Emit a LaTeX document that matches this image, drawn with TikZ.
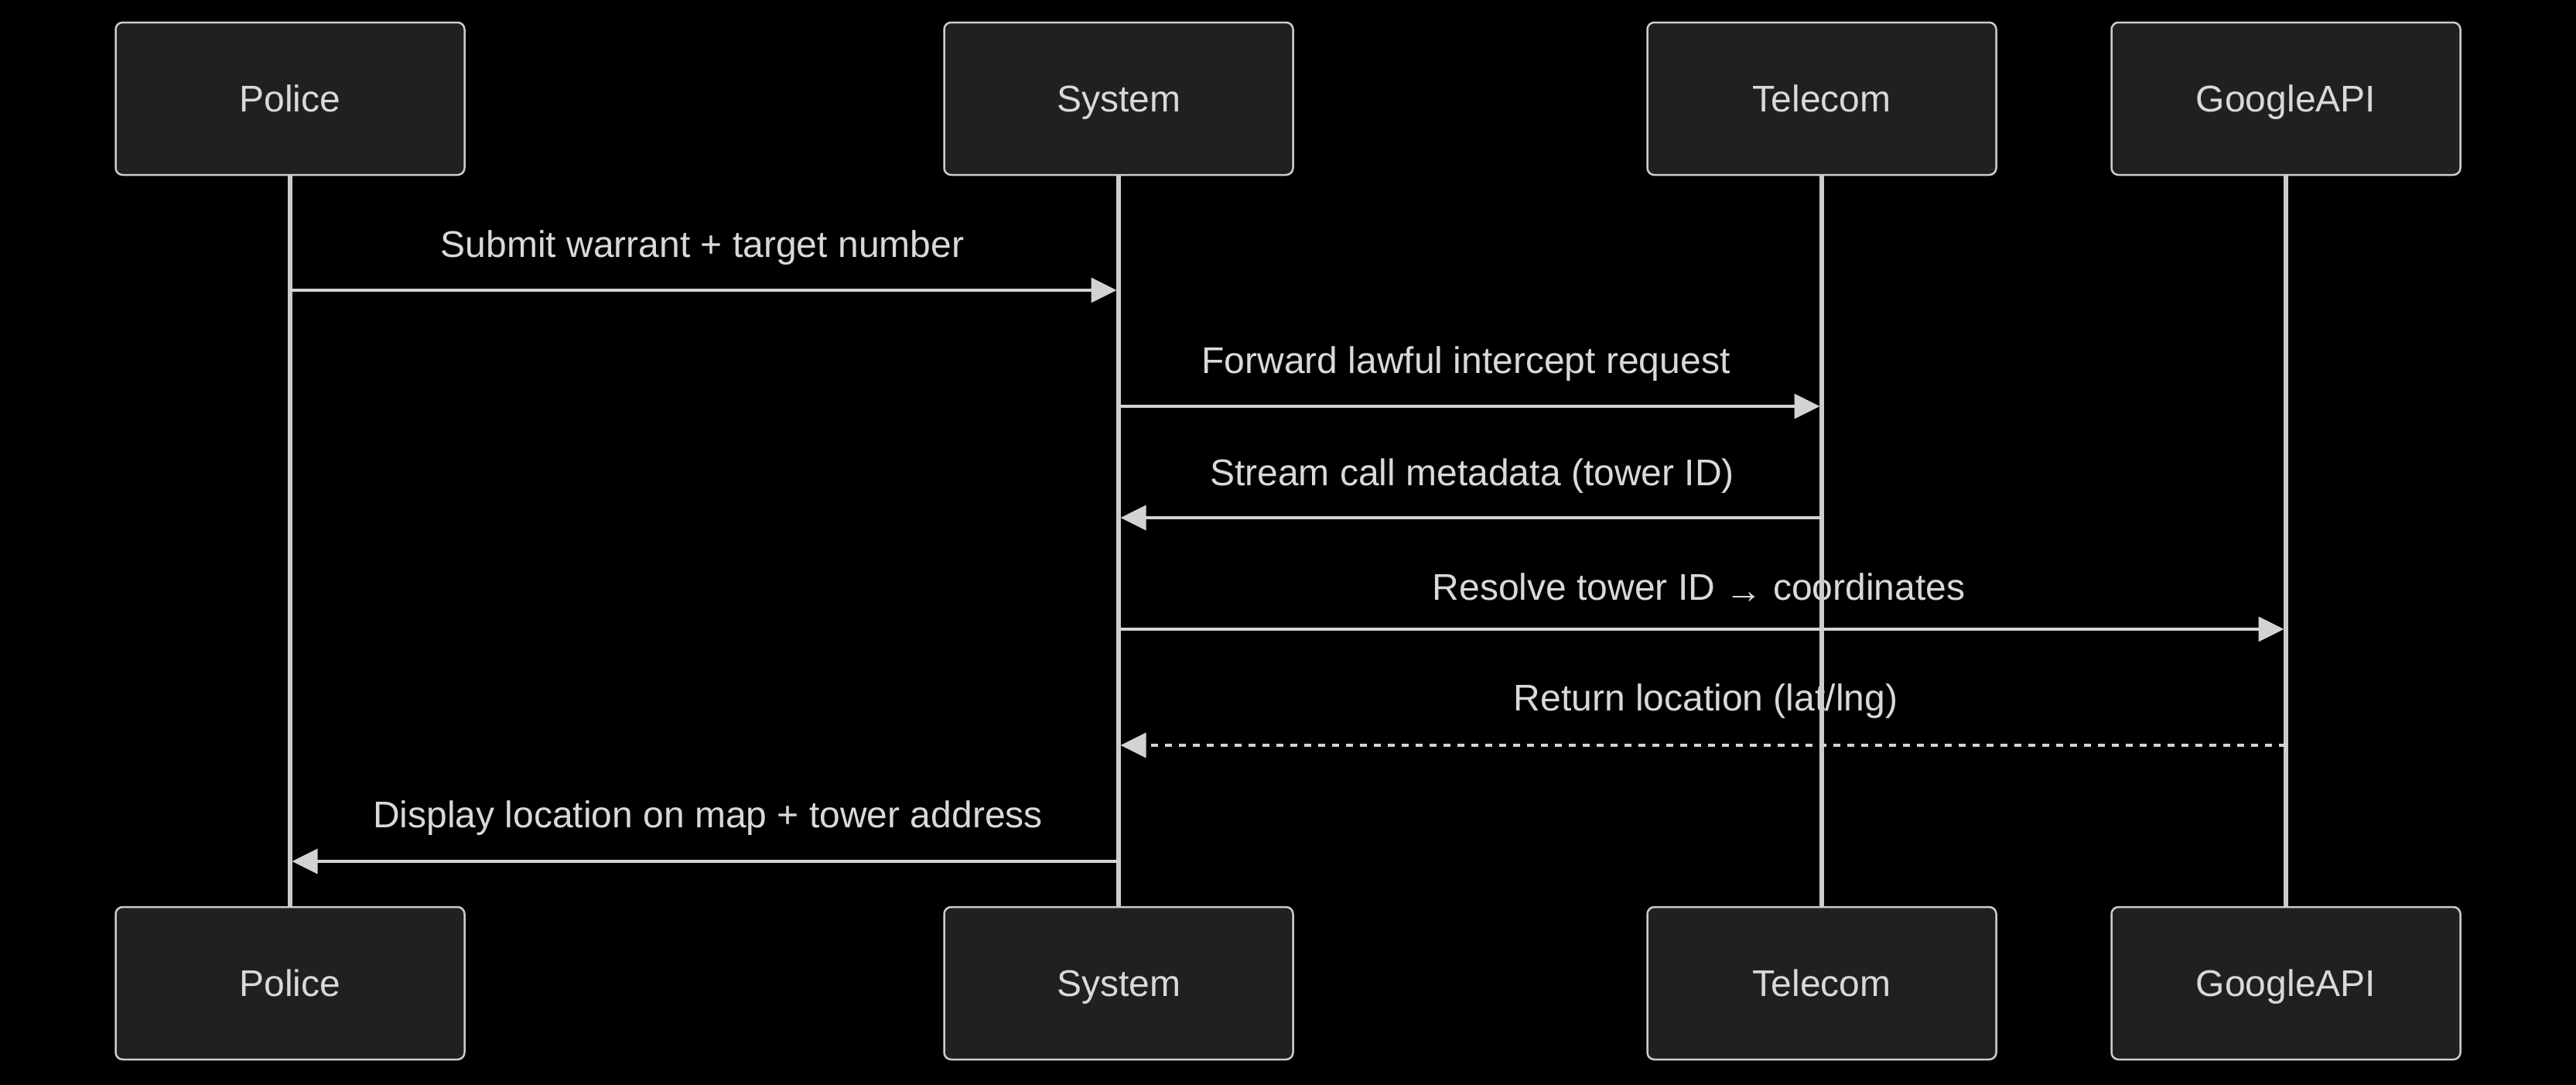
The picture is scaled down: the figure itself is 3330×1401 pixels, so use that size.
\documentclass[tikz,border=0pt]{standalone}
\usepackage{fontspec}
\setmainfont{Liberation Sans}
\usetikzlibrary{arrows.meta}
\definecolor{bg}{HTML}{000000}
\definecolor{boxfill}{HTML}{1F2121}
\definecolor{boxline}{HTML}{CCCCCC}
\definecolor{lifec}{HTML}{CCCCCC}
\definecolor{sigc}{HTML}{D3D3D3}
\definecolor{txtc}{HTML}{D9D9D9}
\tikzset{
  actor/.style={draw=boxline, fill=boxfill, line width=2.5pt, rounded corners=9pt,
    minimum width=451pt, minimum height=197pt, inner sep=0pt,
    text height=34.4pt, text depth=0pt,
    text=txtc, font=\fontsize{48}{58}\selectfont},
  lifeline/.style={draw=lifec, line width=5.5pt},
  msg/.style={draw=sigc, line width=3.5pt,
    -{Triangle[length=33pt,width=32pt]}, shorten >=2.5pt},
  reply/.style={msg, dash pattern=on 9pt off 9pt},
  lbl/.style={text=txtc, font=\fontsize{48}{58}\selectfont, inner sep=0pt, anchor=base},
}
\begin{document}
\begin{tikzpicture}[x=1pt,y=-1pt]
\useasboundingbox (0,0) rectangle (3330,1401);
\fill[bg] (-2,-2) rectangle (3332,1403);
% actors
\node[actor] (p1) at (375,127.5) {Police};
\node[actor] (s1) at (1446,127.5) {System};
\node[actor] (t1) at (2355,127.5) {Telecom};
\node[actor] (g1) at (2955,127.5) {GoogleAPI};
\node[actor] (p2) at (375,1270.5) {Police};
\node[actor] (s2) at (1446,1270.5) {System};
\node[actor] (t2) at (2355,1270.5) {Telecom};
\node[actor] (g2) at (2955,1270.5) {GoogleAPI};
% labels
\node[lbl] (l1) at (908,332) {Submit warrant + target number};
\node[lbl] (l2) at (1895,482) {Forward lawful intercept request};
\node[lbl] (l3) at (1903,627) {Stream call metadata (tower ID)};
\node[lbl] (l4) at (2196,775) {Resolve tower ID \raisebox{-4pt}{→} coordinates};
\node[lbl] (l5) at (2205,918) {Return location (lat/lng)};
\node[lbl] (l6) at (915,1069) {Display location on map + tower address};
% lifelines
\draw[lifeline] (p1.south) -- (p2.north);
\draw[lifeline] (s1.south) -- (s2.north);
\draw[lifeline] (t1.south) -- (t2.north);
\draw[lifeline] (g1.south) -- (g2.north);
% message anchor points
\coordinate (pA) at (375,375);  \coordinate (sA) at (1446,375);
\coordinate (sB) at (1446,525); \coordinate (tB) at (2355,525);
\coordinate (tC) at (2355,669); \coordinate (sC) at (1446,669);
\coordinate (sD) at (1446,813); \coordinate (gD) at (2955,813);
\coordinate (gE) at (2955,963); \coordinate (sE) at (1446,963);
\coordinate (sF) at (1446,1113); \coordinate (pF) at (375,1113);
% messages
\draw[msg] (pA) -- (sA);
\draw[msg] (sB) -- (tB);
\draw[msg] (tC) -- (sC);
\draw[msg] (sD) -- (gD);
\draw[reply] (gE) -- (sE);
\draw[msg] (sF) -- (pF);
\end{tikzpicture}
\end{document}
